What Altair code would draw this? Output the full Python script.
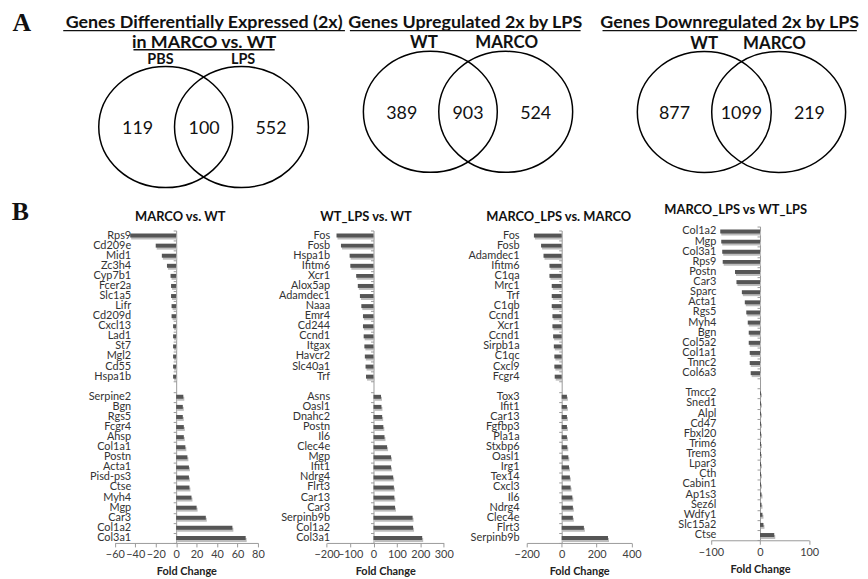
import altair as alt
import pandas as pd

FONT = "Lato"
SERIF = "Liberation Serif"

# ---------------- Panel A : Venn diagrams ----------------
venn_titles = [["Genes Differentially Expressed (2x)", "in MARCO vs. WT"],
               ["Genes Upregulated 2x by LPS"],
               ["Genes Downregulated 2x by LPS"]]
venn_sets = [["PBS", "LPS"], ["WT", "MARCO"], ["WT", "MARCO"]]
venn_counts = [[119, 100, 552], [389, 903, 524], [877, 1099, 219]]

# ---------------- Panel B : fold changes ----------------
p1_title = "MARCO vs. WT"
p1_neg_genes = ["Rps9", "Cd209e", "Mid1", "Zc3h4", "Cyp7b1", "Fcer2a", "Slc1a5", "Lifr",
                "Cd209d", "Cxcl13", "Lad1", "St7", "Mgl2", "Cd55", "Hspa1b"]
p1_neg_vals = [-45, -20, -14, -9, -5.5, -5, -5, -4.5, -4.5, -3, -3, -3, -3, -3, -3]
p1_pos_genes = ["Serpine2", "Bgn", "Rgs5", "Fcgr4", "Ahsp", "Col1a1", "Postn", "Acta1",
                "Pisd-ps3", "Ctse", "Myh4", "Mgp", "Car3", "Col1a2", "Col3a1"]
p1_pos_vals = [7, 6.5, 6.5, 7.5, 7.5, 9, 11, 12.5, 12.5, 13, 15, 20, 29, 55, 68]

p2_title = "WT_LPS vs. WT"
p2_neg_genes = ["Fos", "Fosb", "Hspa1b", "Ifitm6", "Xcr1", "Alox5ap", "Adamdec1", "Naaa",
                "Emr4", "Cd244", "Ccnd1", "Itgax", "Havcr2", "Slc40a1", "Trf"]
p2_neg_vals = [-158, -139, -102, -99, -74, -67, -58, -52, -45, -45, -42, -39, -37, -34, -32]
p2_pos_genes = ["Asns", "Oasl1", "Dnahc2", "Postn", "Il6", "Clec4e", "Mgp", "Ifit1", "Ndrg4",
                "Flrt3", "Car13", "Car3", "Serpinb9b", "Col1a2", "Col3a1"]
p2_pos_vals = [32, 34, 37, 42, 47, 58, 75, 75, 84, 87, 89, 92, 167, 169, 208]

p3_title = "MARCO_LPS vs. MARCO"
p3_neg_genes = ["Fos", "Fosb", "Adamdec1", "Ifitm6", "C1qa", "Mrc1", "Trf", "C1qb", "Ccnd1",
                "Xcr1", "Ccnd1", "Sirpb1a", "C1qc", "Cxcl9", "Fcgr4"]
p3_neg_vals = [-159, -118, -104, -70, -70, -57, -57, -57, -53, -53, -49, -45, -42, -42, -40]
p3_pos_genes = ["Tox3", "Ifit1", "Car13", "Fgfbp3", "Pla1a", "Stxbp6", "Oasl1", "Irg1", "Tex14",
                "Cxcl3", "Il6", "Ndrg4", "Clec4e", "Flrt3", "Serpinb9b"]
p3_pos_vals = [30, 30, 30, 30, 30, 32, 38, 42, 47, 51, 61, 64, 64, 127, 265]

p4_title = "MARCO_LPS vs WT_LPS"
p4_neg_genes = ["Col1a2", "Mgp", "Col3a1", "Rps9", "Postn", "Car3", "Sparc", "Acta1", "Rgs5",
                "Myh4", "Bgn", "Col5a2", "Col1a1", "Tnnc2", "Col6a3"]
p4_neg_vals = [-81, -79, -77, -76, -51, -48, -37, -31, -28, -25, -23, -23, -21, -21, -19]
p4_pos_genes = ["Tmcc2", "Sned1", "Alpl", "Cd47", "Fbxl20", "Trim6", "Trem3", "Lpar3", "Cth",
                "Cabin1", "Ap1s3", "Sez6l", "Wdfy1", "Slc15a2", "Ctse"]
p4_pos_vals = [2, 2, 2, 2, 2, 2, 2, 2, 2, 2, 3, 3, 5, 7, 29]

axis_domains = [[-60, 80], [-200, 300], [-200, 400], [-100, 100]]
axis_ticks = [[-60, -40, -20, 0, 20, 40, 60, 80], [-200, -100, 0, 100, 200, 300],
              [-200, 0, 200, 400], [-100, 0, 100]]

# ---------------- layout (styling) ----------------
TOP, BOT = 8, 190
S = 67.5  # px per unit in venn panels
venn_layout = [
    dict(L=8, R=350, cx=205.2, cy=121.7, sep=38.2, num_dx=[-66.5, 0.5, 68], num_dy=2,
         set_dx=[-43.5, 39.8], set_dy=-67.7, set_fs=14.5, title_dx=0.5, title_dy=[-104.5, -85],
         ul=[(-141.5, 142.5, -97.2), (-70.7, 71.7, -78.0)]),
    dict(L=350, R=600, cx=471.8, cy=106.3, sep=38.0, num_dx=[-66.8, 0, 68.2], num_dy=2,
         set_dx=[-44.5, 38.9], set_dy=-69, set_fs=17, title_dx=-2.8, title_dy=[-89.1],
         ul=[(-119.1, 113.5, -81.8)]),
    dict(L=600, R=866, cx=747.5, cy=106.5, sep=37.5, num_dx=[-67.5, 0, 68.5], num_dy=2,
         set_dx=[-37.5, 33.2], set_dy=-69, set_fs=17, title_dx=-11.9, title_dy=[-89.3],
         ul=[(-140.1, 116.3, -82.0)]),
]
RX, RY = 67.5, 61.0


def ellipse_path(ratio):
    k = 0.5523
    r = ratio
    return (f"M 1 0 C 1 {r*k:.4f} {k} {r} 0 {r} C {-k} {r} -1 {r*k:.4f} -1 0 "
            f"C -1 {-r*k:.4f} {-k} {-r} 0 {-r} C {k} {-r} 1 {-r*k:.4f} 1 0 Z")


def venn_chart(i):
    g = venn_layout[i]
    xs = alt.Scale(domain=[(g["L"] - g["cx"]) / S, (g["R"] - g["cx"]) / S], nice=False, zero=False)
    ys = alt.Scale(domain=[(TOP - g["cy"]) / S, (BOT - g["cy"]) / S], nice=False, zero=False,
                   reverse=True)
    X = alt.X("x:Q", scale=xs, axis=None)
    Y = alt.Y("y:Q", scale=ys, axis=None)

    ell = pd.DataFrame({"x": [-g["sep"] / S, g["sep"] / S], "y": [0, 0]})
    ell_c = alt.Chart(ell).mark_point(shape=ellipse_path(RY / RX), size=(2 * RX) ** 2,
                                      filled=False, stroke="black", strokeWidth=1.5,
                                      opacity=1).encode(x=X, y=Y)

    nums = pd.DataFrame({"x": [d / S for d in g["num_dx"]], "y": [g["num_dy"] / S] * 3,
                         "t": [str(v) for v in venn_counts[i]]})
    nums_c = alt.Chart(nums).mark_text(font=FONT, fontSize=18, color="#111", align="center",
                                       baseline="middle").encode(x=X, y=Y, text="t:N")

    sets = pd.DataFrame({"x": [d / S for d in g["set_dx"]], "y": [g["set_dy"] / S] * 2,
                         "t": venn_sets[i]})
    sets_c = alt.Chart(sets).mark_text(font=FONT, fontSize=g["set_fs"], fontWeight="bold",
                                       color="#111", align="center",
                                       baseline="middle").encode(x=X, y=Y, text="t:N")

    tit = pd.DataFrame({"x": [g["title_dx"] / S] * len(venn_titles[i]),
                        "y": [d / S for d in g["title_dy"]], "t": venn_titles[i]})
    tit_c = alt.Chart(tit).mark_text(font=FONT, fontSize=18, fontWeight="bold", color="#111",
                                     align="center", baseline="middle").encode(x=X, y=Y, text="t:N")

    ul = pd.DataFrame({"x": [u[0] / S for u in g["ul"]], "x2": [u[1] / S for u in g["ul"]],
                       "y": [u[2] / S for u in g["ul"]]})
    ul_c = alt.Chart(ul).mark_rule(color="#111", strokeWidth=1.4).encode(x=X, x2="x2:Q", y=Y)

    layers = [ell_c, nums_c, sets_c, tit_c, ul_c]
    if i == 0:
        a_c = alt.Chart(pd.DataFrame({"t": ["A"]})).mark_text(
            font=SERIF, fontSize=26, fontWeight="bold", color="#111", align="center",
            baseline="middle").encode(text="t:N", x=alt.value(14), y=alt.value(9))
        layers.append(a_c)
    return alt.layer(*layers).properties(width=g["R"] - g["L"], height=BOT - TOP)


# ---------------- bar panels (page-pixel layout of row 2) ----------------
ROW_TOP = 190
CELL_H = 351
cell_left = [60, 295, 489, 676]
cell_right = [295, 489, 676, 866]
plot_left = [115.7, 329.3, 531.0, 716.7]
plot_width = [144.3, 118.0, 105.7, 99.0]
label_right = [131.7, 332.3, 523.3, 721.7]
row_range = [[36, 351], [36, 351], [36, 351], [31.9, 348.1]]
xaxis_offset = [0, 0, 0, -2.7]
title_pos = [(181.7, 212), (369, 212), (563.3, 212), (741.7, 205)]


def bar_panel(k, title, neg_g, neg_v, pos_g, pos_v):
    labels = neg_g + [""] + pos_g
    rows = list(range(len(labels)))
    df = pd.DataFrame({"row": list(range(len(neg_g))) + list(range(len(neg_g) + 1, len(labels))),
                       "v": neg_v + pos_v})
    dom = axis_domains[k]
    a = plot_left[k] - cell_left[k]
    w = plot_width[k]
    zero_px = a + (0 - dom[0]) / (dom[1] - dom[0]) * w
    label_expr = "[" + ",".join(f"'{s}'" for s in labels) + "][datum.value]"
    xs = alt.Scale(domain=dom, nice=False, zero=False, range=[a, a + w])
    ysc = alt.Scale(domain=rows, paddingInner=0, paddingOuter=0, range=row_range[k])
    xaxis = alt.Axis(values=axis_ticks[k], grid=False, domainColor="#9a9a9a", tickColor="#9a9a9a",
                     tickSize=4, labelFont=FONT, labelFontSize=11, labelColor="#404040",
                     labelFlush=False, labelOverlap=False, labelPadding=2,
                     offset=xaxis_offset[k],
                     title="Fold Change", titleFont=FONT, titleFontSize=11,
                     titleFontWeight="bold", titleColor="#222", titlePadding=6)
    shadow = alt.Chart(df).mark_bar(color="#bdbdbd", size=4, yOffset=2, xOffset=1,
                                    x2Offset=1).encode(
        x=alt.X("v:Q", scale=xs, axis=xaxis),
        y=alt.Y("row:O", scale=ysc,
                axis=alt.Axis(orient="left", labelExpr=label_expr, domain=False, ticks=False,
                              offset=-(label_right[k] - cell_left[k]), labelPadding=0,
                              labelFont=FONT, labelFontSize=11, labelColor="#333",
                              labelOverlap=False, title=None)))
    main = alt.Chart(df).mark_bar(color="#555555", size=4).encode(
        x=alt.X("v:Q", scale=xs, axis=xaxis),
        y=alt.Y("row:O", scale=ysc,
                axis=alt.Axis(orient="left", labels=False, domain=True, ticks=True,
                              tickBand="extent", tickSize=3, domainColor="#9a9a9a",
                              tickColor="#9a9a9a", offset=-zero_px, title=None)))
    tx, ty = title_pos[k]
    ttl = alt.Chart(pd.DataFrame({"t": [title]})).mark_text(
        font=FONT, fontSize=13, fontWeight="bold", color="#111", align="center",
        baseline="middle").encode(text="t:N", x=alt.value(tx - cell_left[k]),
                                  y=alt.value(ty - ROW_TOP))
    return alt.layer(shadow, main, ttl).resolve_axis(y="independent").properties(
        width=cell_right[k] - cell_left[k], height=CELL_H)


p1 = bar_panel(0, p1_title, p1_neg_genes, p1_neg_vals, p1_pos_genes, p1_pos_vals)
p2 = bar_panel(1, p2_title, p2_neg_genes, p2_neg_vals, p2_pos_genes, p2_pos_vals)
p3 = bar_panel(2, p3_title, p3_neg_genes, p3_neg_vals, p3_pos_genes, p3_pos_vals)
p4 = bar_panel(3, p4_title, p4_neg_genes, p4_neg_vals, p4_pos_genes, p4_pos_vals)

b_label = alt.Chart(pd.DataFrame({"t": ["B"]})).mark_text(
    font=SERIF, fontSize=26, fontWeight="bold", color="#111", align="center",
    baseline="middle").encode(text="t:N", x=alt.value(12.5), y=alt.value(17)).properties(
    width=cell_left[0] - 8, height=CELL_H)

row1 = alt.hconcat(venn_chart(0), venn_chart(1), venn_chart(2), spacing=0, bounds="flush")
row2 = alt.hconcat(b_label, p1, p2, p3, p4, spacing=0, bounds="flush")

chart = alt.vconcat(row1, row2, spacing=0, padding=0).configure_view(stroke=None)

chart.save("out.html", embed_options={"renderer": "svg", "actions": False})
